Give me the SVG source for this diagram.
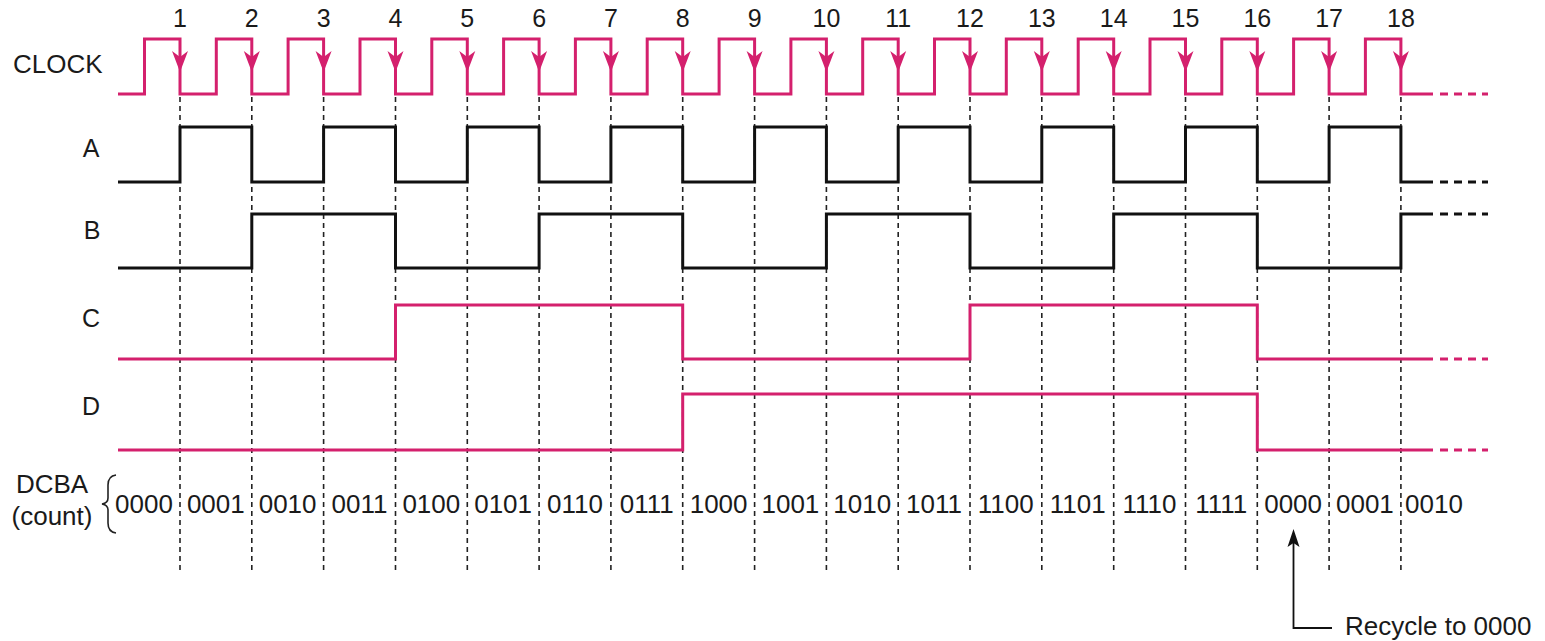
<svg xmlns="http://www.w3.org/2000/svg" width="1545" height="641" viewBox="0 0 1545 641">
<style>
text{font-family:"Liberation Sans",Arial,sans-serif;fill:#1a1a1a}
.lbl{font-size:25px;text-anchor:middle}
.big{font-size:26px}
.cnt{font-size:26px;text-anchor:middle}
.pk{fill:none;stroke:#d4206d;stroke-width:3;stroke-linejoin:miter}
.bk{fill:none;stroke:#111;stroke-width:3;stroke-linejoin:miter}
.pkd{fill:none;stroke:#d4206d;stroke-width:3;stroke-dasharray:8 6}
.bkd{fill:none;stroke:#111;stroke-width:3;stroke-dasharray:8 6}
.grid{fill:none;stroke:#222;stroke-width:1.6;stroke-dasharray:5 4}
.ah{fill:#d4206d}
</style>
<defs>
<path id="clkArrow" d="M-8,51 L0,72 L8,51 L0,57 Z"/>
</defs>

<g id="connectors">
<g id="grid-lines">
<line class="grid" x1="180" y1="97" x2="180" y2="572"/>
<line class="grid" x1="251.8" y1="97" x2="251.8" y2="572"/>
<line class="grid" x1="323.6" y1="97" x2="323.6" y2="572"/>
<line class="grid" x1="395.5" y1="97" x2="395.5" y2="572"/>
<line class="grid" x1="467.3" y1="97" x2="467.3" y2="572"/>
<line class="grid" x1="539.1" y1="97" x2="539.1" y2="572"/>
<line class="grid" x1="610.9" y1="97" x2="610.9" y2="572"/>
<line class="grid" x1="682.7" y1="97" x2="682.7" y2="572"/>
<line class="grid" x1="754.6" y1="97" x2="754.6" y2="572"/>
<line class="grid" x1="826.4" y1="97" x2="826.4" y2="572"/>
<line class="grid" x1="898.2" y1="97" x2="898.2" y2="572"/>
<line class="grid" x1="970" y1="97" x2="970" y2="572"/>
<line class="grid" x1="1041.8" y1="97" x2="1041.8" y2="572"/>
<line class="grid" x1="1113.7" y1="97" x2="1113.7" y2="572"/>
<line class="grid" x1="1185.5" y1="97" x2="1185.5" y2="572"/>
<line class="grid" x1="1257.3" y1="97" x2="1257.3" y2="572"/>
<line class="grid" x1="1329.1" y1="97" x2="1329.1" y2="572"/>
<line class="grid" x1="1400.9" y1="97" x2="1400.9" y2="572"/>
</g>
<g id="recycle-arrow">
<path d="M1332,628 H1293.5 V542" fill="none" stroke="#111" stroke-width="1.8"/>
<path d="M1287.5,547 L1293.5,529 L1299.5,547 L1293.5,543 Z" fill="#111"/>
</g>
</g>

<g id="clock">
<text class="big" x="13" y="73">CLOCK</text>
<path class="pk" d="M118,94 H144.5 V39 H180 V94 H216.3 V39 H251.8 V94 H288.1 V39 H323.6 V94 H360 V39 H395.5 V94 H431.8 V39 H467.3 V94 H503.6 V39 H539.1 V94 H575.4 V39 H610.9 V94 H647.2 V39 H682.7 V94 H719.1 V39 H754.6 V94 H790.9 V39 H826.4 V94 H862.7 V39 H898.2 V94 H934.5 V39 H970 V94 H1006.3 V39 H1041.8 V94 H1078.2 V39 H1113.7 V94 H1150 V39 H1185.5 V94 H1221.8 V39 H1257.3 V94 H1293.6 V39 H1329.1 V94 H1365.4 V39 H1400.9 V94 H1433"/>
<line class="pkd" x1="1440" y1="94" x2="1488" y2="94"/>
<g class="ah">
<use href="#clkArrow" x="180"/><use href="#clkArrow" x="251.8"/><use href="#clkArrow" x="323.6"/><use href="#clkArrow" x="395.5"/><use href="#clkArrow" x="467.3"/><use href="#clkArrow" x="539.1"/><use href="#clkArrow" x="610.9"/><use href="#clkArrow" x="682.7"/><use href="#clkArrow" x="754.6"/><use href="#clkArrow" x="826.4"/><use href="#clkArrow" x="898.2"/><use href="#clkArrow" x="970"/><use href="#clkArrow" x="1041.8"/><use href="#clkArrow" x="1113.7"/><use href="#clkArrow" x="1185.5"/><use href="#clkArrow" x="1257.3"/><use href="#clkArrow" x="1329.1"/><use href="#clkArrow" x="1400.9"/>
</g>
<g id="pulse-numbers" class="lbl">
<text x="180" y="27">1</text><text x="251.8" y="27">2</text><text x="323.6" y="27">3</text><text x="395.5" y="27">4</text><text x="467.3" y="27">5</text><text x="539.1" y="27">6</text><text x="610.9" y="27">7</text><text x="682.7" y="27">8</text><text x="754.6" y="27">9</text><text x="826.4" y="27">10</text><text x="898.2" y="27">11</text><text x="970" y="27">12</text><text x="1041.8" y="27">13</text><text x="1113.7" y="27">14</text><text x="1185.5" y="27">15</text><text x="1257.3" y="27">16</text><text x="1329.1" y="27">17</text><text x="1400.9" y="27">18</text>
</g>
</g>

<g id="signal-A">
<text class="lbl" x="91" y="157">A</text>
<path class="bk" d="M118,182 H180 V127 H251.8 V182 H323.6 V127 H395.5 V182 H467.3 V127 H539.1 V182 H610.9 V127 H682.7 V182 H754.6 V127 H826.4 V182 H898.2 V127 H970 V182 H1041.8 V127 H1113.7 V182 H1185.5 V127 H1257.3 V182 H1329.1 V127 H1400.9 V182 H1433"/>
<line class="bkd" x1="1440" y1="182" x2="1488" y2="182"/>
</g>

<g id="signal-B">
<text class="lbl" x="92" y="239">B</text>
<path class="bk" d="M118,268 H251.8 V214 H395.5 V268 H539.1 V214 H682.7 V268 H826.4 V214 H970 V268 H1113.7 V214 H1257.3 V268 H1400.9 V214 H1433"/>
<line class="bkd" x1="1440" y1="214" x2="1488" y2="214"/>
</g>

<g id="signal-C">
<text class="lbl" x="91" y="327">C</text>
<path class="pk" d="M118,359 H395.5 V305 H682.7 V359 H970 V305 H1257.3 V359 H1433"/>
<line class="pkd" x1="1440" y1="359" x2="1488" y2="359"/>
</g>

<g id="signal-D">
<text class="lbl" x="91" y="415">D</text>
<path class="pk" d="M118,450 H682.7 V394 H1257.3 V450 H1433"/>
<line class="pkd" x1="1440" y1="450" x2="1488" y2="450"/>
</g>

<g id="count">
<text class="big" x="52" y="493" text-anchor="middle">DCBA</text>
<text class="big" x="52" y="525" text-anchor="middle">(count)</text>
<path d="M116,475 Q108,476 108,485 V498 Q108,503 102,504 Q108,505 108,510 V523 Q108,532 116,533" fill="none" stroke="#222" stroke-width="1.6"/>
<g class="cnt">
<text x="144" y="513">0000</text><text x="215.8" y="513">0001</text><text x="287.6" y="513">0010</text><text x="359.5" y="513">0011</text><text x="431.3" y="513">0100</text><text x="503.1" y="513">0101</text><text x="574.9" y="513">0110</text><text x="646.7" y="513">0111</text><text x="718.6" y="513">1000</text><text x="790.4" y="513">1001</text><text x="862.2" y="513">1010</text><text x="934" y="513">1011</text><text x="1005.8" y="513">1100</text><text x="1077.7" y="513">1101</text><text x="1149.5" y="513">1110</text><text x="1221.3" y="513">1111</text><text x="1293.1" y="513">0000</text><text x="1364.9" y="513">0001</text><text x="1434" y="513">0010</text>
</g>
</g>

<g id="recycle-label">
<text class="big" x="1345" y="635">Recycle to 0000</text>
</g>
</svg>
